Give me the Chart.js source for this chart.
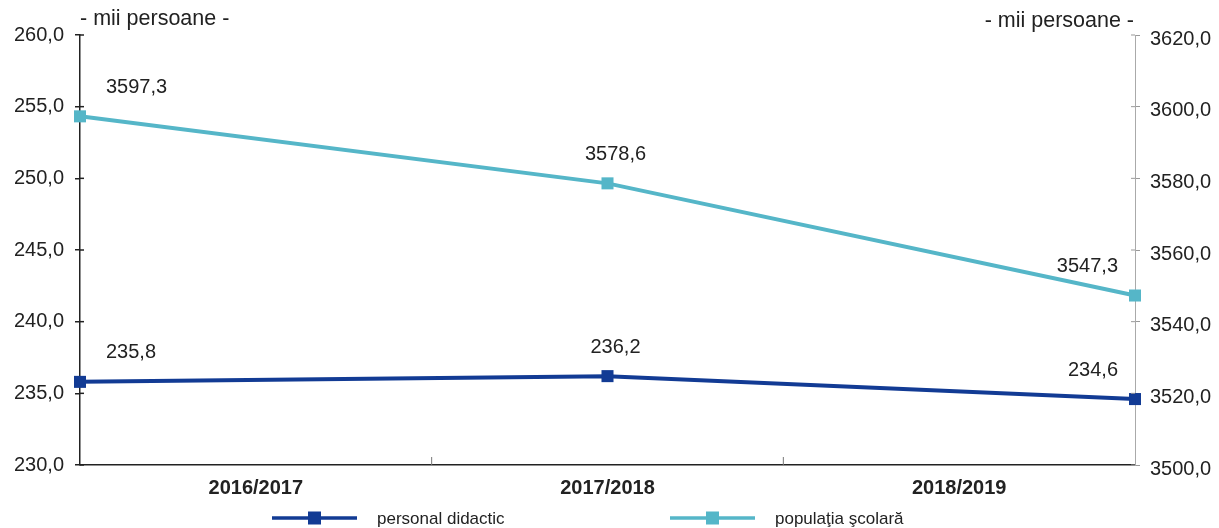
<!DOCTYPE html>
<html>
<head>
<meta charset="utf-8">
<script src="https://cdn.jsdelivr.net/npm/chart.js@4"></script>
<style>
  body { margin: 0; background: #fff; }
</style>
</head>
<body>
<canvas id="chart" width="1219" height="528"></canvas>
<script>
const categories = ["2016/2017", "2017/2018", "2018/2019"];
const personalDidactic = [235.8, 236.2, 234.6];
const populatiaScolara = [3597.3, 3578.6, 3547.3];
const seriesNames = ["personal didactic", "populaţia şcolară"];
const unitLabel = "- mii persoane -";

const darkBlue = "#123b94";
const teal = "#55b6c8";
const textColor = "#222";

Chart.defaults.font.family = "'Liberation Sans', Arial, sans-serif";
Chart.defaults.font.size = 20;
Chart.defaults.color = textColor;

function fmt(v) {
  return v.toFixed(1).replace(".", ",");
}

// value labels above points (first left aligned, middle centred, last right aligned)
const valueLabels = {
  id: "valueLabels",
  afterDatasetsDraw(chart) {
    const ctx = chart.ctx;
    const align = ["left", "center", "right"];
    const dx = [26, 8, -17];
    ctx.save();
    ctx.font = "20px 'Liberation Sans', Arial, sans-serif";
    ctx.fillStyle = textColor;
    ctx.textBaseline = "middle";
    chart.data.datasets.forEach((ds, di) => {
      chart.getDatasetMeta(di).data.forEach((pt, i) => {
        ctx.textAlign = align[i];
        ctx.fillText(fmt(ds.data[i]), pt.x + dx[i], pt.y - 29);
      });
    });
    ctx.restore();
  }
};

// unit captions, inner tick stubs and the legend
const extras = {
  id: "extras",
  afterDraw(chart) {
    const ctx = chart.ctx;
    const a = chart.chartArea;
    const y = chart.scales.y, y1 = chart.scales.y1, x2 = chart.scales.x2;
    ctx.save();

    ctx.strokeStyle = "#222";
    ctx.lineWidth = 1.5;
    y.ticks.forEach((t, i) => {
      const py = y.getPixelForTick(i);
      ctx.beginPath(); ctx.moveTo(a.left, py); ctx.lineTo(a.left + 4, py); ctx.stroke();
    });
    ctx.strokeStyle = "#999";
    ctx.lineWidth = 1;
    y1.ticks.forEach((t, i) => {
      const py = y1.getPixelForTick(i);
      ctx.beginPath(); ctx.moveTo(a.right - 4, py); ctx.lineTo(a.right, py); ctx.stroke();
    });
    ctx.strokeStyle = "#777";
    for (let i = 1; i < categories.length; i++) {
      const px = (x2.getPixelForTick(i - 1) + x2.getPixelForTick(i)) / 2;
      ctx.beginPath(); ctx.moveTo(px, a.bottom); ctx.lineTo(px, a.bottom - 8); ctx.stroke();
    }

    ctx.fillStyle = textColor;
    ctx.font = "21.5px 'Liberation Sans', Arial, sans-serif";
    ctx.textBaseline = "middle";
    ctx.textAlign = "left";
    ctx.fillText(unitLabel, a.left, 19);
    ctx.textAlign = "right";
    ctx.fillText(unitLabel, a.right - 1, 21);

    // legend
    const starts = [272, 670];
    const ly = 518;
    ctx.font = "17px 'Liberation Sans', Arial, sans-serif";
    ctx.textAlign = "left";
    chart.data.datasets.forEach((ds, i) => {
      const x0 = starts[i];
      ctx.strokeStyle = ds.borderColor;
      ctx.lineWidth = 3.5;
      ctx.beginPath(); ctx.moveTo(x0, ly); ctx.lineTo(x0 + 85, ly); ctx.stroke();
      ctx.fillStyle = ds.borderColor;
      ctx.fillRect(x0 + 36, ly - 6.5, 13, 13);
      ctx.fillStyle = textColor;
      ctx.fillText(ds.label, x0 + 105, ly + 1);
    });
    ctx.restore();
  }
};

new Chart(document.getElementById("chart"), {
  type: "line",
  data: {
    labels: categories,
    datasets: [
      {
        label: seriesNames[0],
        data: personalDidactic,
        yAxisID: "y",
        xAxisID: "x",
        borderColor: darkBlue,
        backgroundColor: darkBlue,
        borderWidth: 4,
        pointStyle: "rect",
        pointRadius: 8.5,
        pointBorderWidth: 0,
        clip: false
      },
      {
        label: seriesNames[1],
        data: populatiaScolara,
        yAxisID: "y1",
        xAxisID: "x",
        borderColor: teal,
        backgroundColor: teal,
        borderWidth: 4,
        pointStyle: "rect",
        pointRadius: 8.5,
        pointBorderWidth: 0,
        clip: false
      }
    ]
  },
  options: {
    responsive: false,
    animation: false,
    layout: { padding: { top: 35, bottom: 23, left: 0, right: 0 } },
    plugins: {
      legend: { display: false },
      tooltip: { enabled: false }
    },
    scales: {
      x: {
        type: "category",
        offset: false,
        display: false
      },
      x2: {
        type: "category",
        position: "bottom",
        offset: true,
        grid: { offset: true, drawOnChartArea: false, drawTicks: false },
        border: { color: "#222", width: 1.5 },
        ticks: { font: { weight: "bold", size: 20 }, padding: 11, color: textColor },
        afterFit(s) { s.height = 40; }
      },
      y: {
        position: "left",
        min: 230,
        max: 260,
        ticks: { stepSize: 5, padding: 11, callback: v => fmt(v) },
        grid: { drawOnChartArea: false, tickLength: 5, color: "#222", lineWidth: 1.5 },
        border: { color: "#222", width: 1.5 },
        afterFit(s) { s.width = 80; }
      },
      y1: {
        position: "right",
        min: 3500,
        max: 3620,
        ticks: { stepSize: 20, padding: 10, labelOffset: 4, callback: v => fmt(v) },
        grid: { drawOnChartArea: false, tickLength: 5, color: "#999" },
        border: { color: "#aaa", width: 1 },
        afterFit(s) { s.width = 84; }
      }
    }
  },
  plugins: [valueLabels, extras]
});
</script>
</body>
</html>
